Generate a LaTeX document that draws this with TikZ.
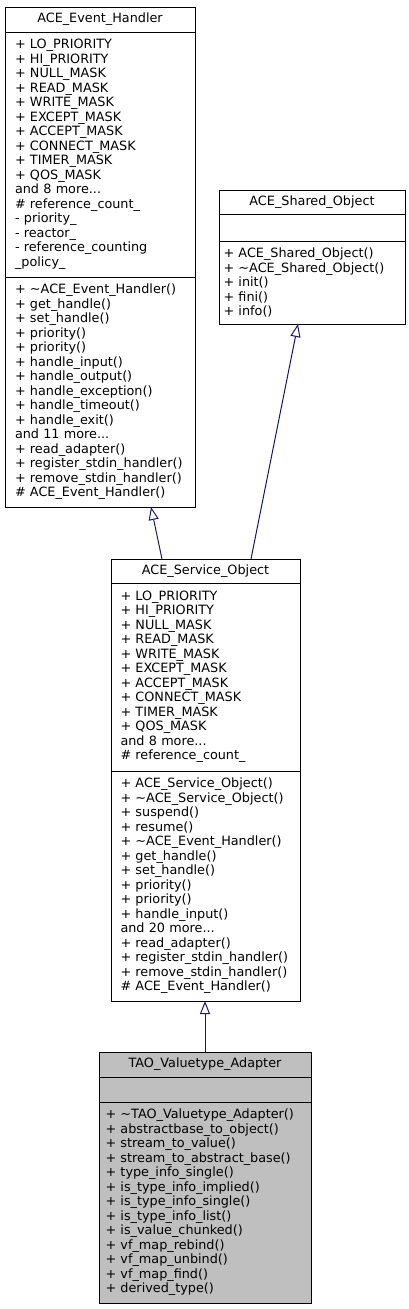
\documentclass[tikz,border=0pt]{standalone}
\usepackage{fontspec}
\setmainfont{DejaVu Sans}
\usetikzlibrary{positioning,calc,arrows.meta}

\definecolor{edgeblue}{HTML}{191970}
\definecolor{mainfill}{HTML}{BFBFBF}

\begin{document}
\begin{tikzpicture}[x=1pt,y=1pt,
    classpart/.style={draw=black, line width=1pt, outer sep=0pt, inner ysep=0pt,
      font=\fontsize{12.8}{14.5}\selectfont, align=left, anchor=north},
    classname/.style={classpart, minimum height=25pt, align=center},
    ehbox/.style={minimum width=190pt, inner xsep=10pt, text width=170pt},
    sobox/.style={minimum width=186pt, inner xsep=4.5pt, text width=177pt},
    svbox/.style={minimum width=189pt, inner xsep=9.5pt, text width=170pt},
    taobox/.style={minimum width=212pt, inner xsep=6.5pt, text width=199pt, fill=mainfill},
    inherit/.style={draw=edgeblue, line width=1pt,
      -{Triangle[open, length=13pt, width=10pt, fill=white]}}]

    % Fix the picture size
    \useasboundingbox (0,0) rectangle (409,-1309);

    % ACE_Event_Handler
    \node[classname, ehbox] (ehName) at (100,-7) {ACE\_Event\_Handler};
    \node[classpart, ehbox, minimum height=245pt, below=0pt of ehName] (ehAttr) {%
      + LO\_PRIORITY\\+ HI\_PRIORITY\\+ NULL\_MASK\\+ READ\_MASK\\+ WRITE\_MASK\\
      + EXCEPT\_MASK\\+ ACCEPT\_MASK\\+ CONNECT\_MASK\\+ TIMER\_MASK\\+ QOS\_MASK\\
      and 8 more...\\\# reference\_count\_\\- priority\_\\- reactor\_\\
      - reference\_counting\\\_policy\_};
    \node[classpart, ehbox, minimum height=230pt, below=0pt of ehAttr] (ehOps) {%
      + \textasciitilde ACE\_Event\_Handler()\\+ get\_handle()\\+ set\_handle()\\
      + priority()\\+ priority()\\+ handle\_input()\\+ handle\_output()\\
      + handle\_exception()\\+ handle\_timeout()\\+ handle\_exit()\\and 11 more...\\
      + read\_adapter()\\+ register\_stdin\_handler()\\+ remove\_stdin\_handler()\\
      \# ACE\_Event\_Handler()};

    % ACE_Shared_Object
    \node[classname, sobox, minimum height=24pt] (soName) at (312,-190) {ACE\_Shared\_Object};
    \node[classpart, sobox, minimum height=27pt, below=0pt of soName] (soAttr) {};
    \node[classpart, sobox, minimum height=83pt, below=0pt of soAttr] (soOps) {%
      + ACE\_Shared\_Object()\\+ \textasciitilde ACE\_Shared\_Object()\\+ init()\\
      + fini()\\+ info()};

    % ACE_Service_Object
    \node[classname, svbox, minimum height=24pt] (svName) at (205.5,-559) {ACE\_Service\_Object};
    \node[classpart, svbox, minimum height=188pt, below=0pt of svName] (svAttr) {%
      + LO\_PRIORITY\\+ HI\_PRIORITY\\+ NULL\_MASK\\+ READ\_MASK\\+ WRITE\_MASK\\
      + EXCEPT\_MASK\\+ ACCEPT\_MASK\\+ CONNECT\_MASK\\+ TIMER\_MASK\\+ QOS\_MASK\\
      and 8 more...\\\# reference\_count\_};
    \node[classpart, svbox, minimum height=230pt, below=0pt of svAttr] (svOps) {%
      + ACE\_Service\_Object()\\+ \textasciitilde ACE\_Service\_Object()\\+ suspend()\\
      + resume()\\+ \textasciitilde ACE\_Event\_Handler()\\+ get\_handle()\\
      + set\_handle()\\+ priority()\\+ priority()\\+ handle\_input()\\and 20 more...\\
      + read\_adapter()\\+ register\_stdin\_handler()\\+ remove\_stdin\_handler()\\
      \# ACE\_Event\_Handler()};

    % TAO_Valuetype_Adapter
    \node[classname, taobox] (taoName) at (205,-1052) {TAO\_Valuetype\_Adapter};
    \node[classpart, taobox, minimum height=25pt, below=0pt of taoName] (taoAttr) {};
    \node[classpart, taobox, minimum height=201pt, below=0pt of taoAttr] (taoOps) {%
      + \textasciitilde TAO\_Valuetype\_Adapter()\\+ abstractbase\_to\_object()\\
      + stream\_to\_value()\\+ stream\_to\_abstract\_base()\\+ type\_info\_single()\\
      + is\_type\_info\_implied()\\+ is\_type\_info\_single()\\+ is\_type\_info\_list()\\
      + is\_value\_chunked()\\+ vf\_map\_rebind()\\+ vf\_map\_unbind()\\
      + vf\_map\_find()\\+ derived\_type()};

    % Arrow end points
    \coordinate (ehIn) at ($(ehOps.south west)+(146,0)$);
    \coordinate (soIn) at ($(soOps.south west)+(79,0)$);
    \coordinate (svOutA) at ($(svName.north west)+(51,0)$);
    \coordinate (svOutB) at ($(svName.north west)+(140,0)$);

    % Inheritance
    \draw[inherit] (svOutA) -- (ehIn);
    \draw[inherit] (svOutB) -- (soIn);
    \draw[inherit] (taoName.north) -- (taoName.north |- svOps.south);

\end{tikzpicture}
\end{document}
